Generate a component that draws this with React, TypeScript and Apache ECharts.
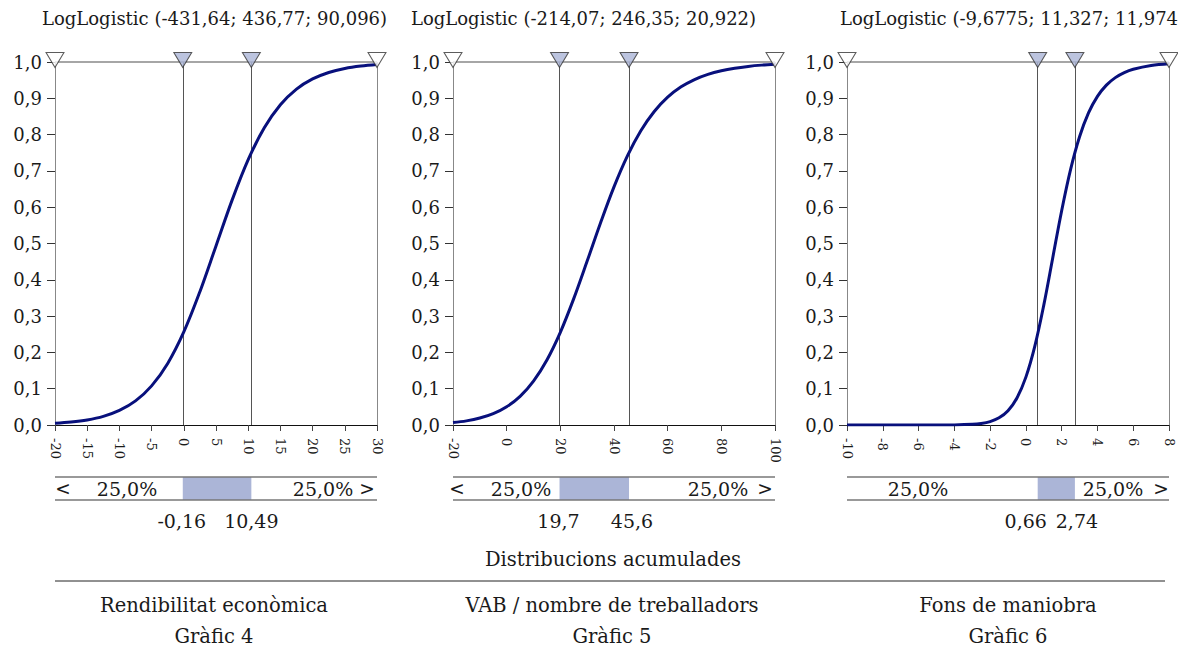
import React, { useEffect, useRef } from "react";
import * as echarts from "echarts";

// ---------- data ----------
const titles = [
  "LogLogistic (-431,64; 436,77; 90,096)",
  "LogLogistic (-214,07; 246,35; 20,922)",
  "LogLogistic (-9,6775; 11,327; 11,974",
];
const captions = ["Rendibilitat econòmica", "VAB / nombre de treballadors", "Fons de maniobra"];
const figureLabels = ["Gràfic 4", "Gràfic 5", "Gràfic 6"];
const footerTitle = "Distribucions acumulades";

const xMin = [-20, -20, -10];
const xMax = [30, 100, 8];
const xStep = [5, 20, 2];

const q25 = [-0.16, 19.7, 0.66];
const q75 = [10.49, 45.6, 2.74];
const q25Text = ["-0,16", "19,7", "0,66"];
const q75Text = ["10,49", "45,6", "2,74"];

const lowShare = ["25,0%", "25,0%", "25,0%"];
const midShare = ["50,0%", "50,0%", ""];
const highShare = ["25,0%", "25,0%", "25,0%"];
const lowArrow = ["<", "<", ""];
const highArrow = [">", ">", ">"];

// Cumulative curves
const x1 = [-20, -17.5, -15, -12.5, -10, -7.5, -5, -2.5, 0, 2.5, 5, 7.5, 10, 12.5, 15, 17.5, 20, 22.5, 25, 27.5, 30];
const f1 = [0.0048, 0.0082, 0.014, 0.0238, 0.0401, 0.0664, 0.1078, 0.1697, 0.2564, 0.3673, 0.4933, 0.6195, 0.7309, 0.8187, 0.8822, 0.9253, 0.9533, 0.9711, 0.9822, 0.989, 0.9932];

const x2 = [-20, -15, -10, -5, 0, 5, 10, 15, 20, 25, 30, 35, 40, 45, 50, 55, 60, 65, 70, 75, 80, 85, 90, 95, 100];
const f2 = [0.0068, 0.0114, 0.0191, 0.0313, 0.0503, 0.079, 0.121, 0.1792, 0.2554, 0.3481, 0.4515, 0.5572, 0.656, 0.7414, 0.8105, 0.8636, 0.903, 0.9315, 0.9517, 0.966, 0.976, 0.983, 0.9879, 0.9914, 0.9938];

const x3 = [-10, -9, -8, -7, -6, -5, -4, -3, -2.5, -2, -1.5, -1, -0.5, 0, 0.5, 1, 1.5, 2, 2.5, 3, 3.5, 4, 4.5, 5, 5.5, 6, 7, 8];
const f3 = [0, 0, 0, 0, 0, 0.00003, 0.0003, 0.0018, 0.0042, 0.0094, 0.0198, 0.0395, 0.0745, 0.1319, 0.2173, 0.3302, 0.4603, 0.5903, 0.7041, 0.7939, 0.8596, 0.9053, 0.9363, 0.957, 0.9708, 0.98, 0.9904, 0.9952];

const curvesX = [x1, x2, x3];
const curvesF = [f1, f2, f3];

// ---------- layout / style ----------
const FONT = "DejaVu Serif";
const TEXT = "#1a1a1a";
const NAVY = "#08107c";
const SHADE = "#abb5d7";
const gridLeft = [55, 453, 847];
const GRID_W = 322;
const GRID_TOP = 62;
const GRID_H = 363;
const STRIP_TOP = 477;
const STRIP_H = 23;
const titleX = [42, 411, 840];
const lowTextDx = [72, 68, 71];
const highTextDx = [-54, -57, -56];
const lowArrowDx = [8, 4, 0];
const highArrowDx = [-10, -10, -8];
const q25Dx = [-1, -1, -12];
const q75Dx = [0, 3, 2];
const captionX = [214, 612, 1008];

export default function App() {
  const ref = useRef<HTMLDivElement>(null);

  useEffect(() => {
    if (!ref.current) return;
    const chart = echarts.init(ref.current, null, { renderer: "svg" });

    const grids: any[] = [];
    const xAxes: any[] = [];
    const yAxes: any[] = [];
    const series: any[] = [];

    for (let i = 0; i < 3; i++) {
      grids.push({ left: gridLeft[i], top: GRID_TOP, width: GRID_W, height: GRID_H });
      xAxes.push({
        type: "value",
        gridIndex: i,
        min: xMin[i],
        max: xMax[i],
        interval: xStep[i],
        axisLine: { show: true, onZero: false, lineStyle: { color: "#111", width: 1 } },
        axisTick: { show: true, length: 6, lineStyle: { color: "#444" } },
        axisLabel: {
          rotate: -90,
          fontFamily: FONT,
          fontSize: 13,
          color: TEXT,
          margin: 13,
          formatter: (v: number) => String(v),
        },
        splitLine: { show: false },
      });
      yAxes.push({
        type: "value",
        gridIndex: i,
        min: 0,
        max: 1,
        interval: 0.1,
        axisLine: { show: true, onZero: false, lineStyle: { color: "#888", width: 1 } },
        axisTick: { show: true, length: 8, lineStyle: { color: "#333" } },
        axisLabel: {
          fontFamily: FONT,
          fontSize: 18,
          color: TEXT,
          margin: 13,
          formatter: (v: number) => v.toFixed(1).replace(".", ","),
        },
        splitLine: { show: false },
      });

      series.push({
        type: "line",
        xAxisIndex: i,
        yAxisIndex: i,
        data: curvesX[i].map((x, k) => [x, curvesF[i][k]]),
        showSymbol: false,
        smooth: 0.35,
        lineStyle: { color: NAVY, width: 3 },
        z: 3,
        markLine: {
          silent: true,
          symbol: ["none", "none"],
          label: { show: false },
          lineStyle: { color: "#555", width: 1, type: "solid" },
          z: 2,
          data: [
            { xAxis: q25[i] },
            { xAxis: q75[i] },
            { xAxis: xMax[i], lineStyle: { color: "#888", width: 1, type: "solid" } },
            { yAxis: 1, lineStyle: { color: "#888", width: 1.5, type: "solid" } },
          ],
        },
      });

      const tri = (x: number, fill: string) => ({
        value: [x, 1],
        itemStyle: { color: fill, borderColor: "#333", borderWidth: 1 },
      });
      series.push({
        type: "scatter",
        xAxisIndex: i,
        yAxisIndex: i,
        symbol: "triangle",
        symbolRotate: 180,
        symbolSize: [18, 15],
        symbolOffset: [0, -2],
        clip: false,
        silent: true,
        z: 5,
        data: [tri(xMin[i], "#fff"), tri(q25[i], SHADE), tri(q75[i], SHADE), tri(xMax[i], "#fff")],
      });
    }

    // percentile strips below each panel
    for (let i = 0; i < 3; i++) {
      const g = 3 + i;
      grids.push({ left: gridLeft[i], top: STRIP_TOP, width: GRID_W, height: STRIP_H });
      xAxes.push({ type: "value", gridIndex: g, min: xMin[i], max: xMax[i], show: false });
      yAxes.push({ type: "value", gridIndex: g, min: 0, max: 1, show: false });
      series.push({
        type: "line",
        xAxisIndex: g,
        yAxisIndex: g,
        data: [[xMin[i], 0.5]],
        showSymbol: false,
        lineStyle: { opacity: 0 },
        silent: true,
        markArea: {
          silent: true,
          itemStyle: { color: SHADE },
          data: [[{ xAxis: q25[i] }, { xAxis: q75[i] }]],
        },
        markLine: {
          silent: true,
          symbol: ["none", "none"],
          label: { show: false },
          lineStyle: { color: "#777", width: 1.5, type: "solid" },
          data: [{ yAxis: 0 }, { yAxis: 1 }],
        },
      });
    }

    chart.setOption({
      animation: false,
      backgroundColor: "#fff",
      grid: grids,
      xAxis: xAxes,
      yAxis: yAxes,
      series,
    });

    // texts placed with the library's own scales
    const txt = (x: number, y: number, s: string, size = 18.5, align = "center") => ({
      type: "text",
      x,
      y,
      silent: true,
      style: {
        text: s,
        fontFamily: FONT,
        fontSize: size,
        fill: TEXT,
        align,
        verticalAlign: "middle",
      },
    });
    const elements: any[] = [];
    const stripMid = STRIP_TOP + STRIP_H / 2;
    for (let i = 0; i < 3; i++) {
      const px = (v: number) => chart.convertToPixel({ xAxisIndex: i }, v) as number;
      const left = px(xMin[i]);
      const right = px(xMax[i]);
      elements.push(txt(titleX[i], 18, titles[i], 18, "left"));
      if (lowArrow[i]) elements.push(txt(left + lowArrowDx[i], stripMid, lowArrow[i]));
      elements.push(txt(left + lowTextDx[i], stripMid, lowShare[i], 19));
      if (midShare[i]) elements.push(txt((px(q25[i]) + px(q75[i])) / 2, stripMid, midShare[i], 19));
      elements.push(txt(right + highTextDx[i], stripMid, highShare[i], 19));
      if (highArrow[i]) elements.push(txt(right + highArrowDx[i], stripMid, highArrow[i]));
      elements.push(txt(px(q25[i]) + q25Dx[i], 521, q25Text[i], 19));
      elements.push(txt(px(q75[i]) + q75Dx[i], 521, q75Text[i], 19));
      elements.push(txt(captionX[i], 605, captions[i], 19.5));
      elements.push(txt(captionX[i], 636, figureLabels[i], 19.5));
    }
    elements.push(txt(613, 559, footerTitle, 19.5));
    elements.push({
      type: "line",
      silent: true,
      shape: { x1: 55, y1: 581, x2: 1165, y2: 581 },
      style: { stroke: "#222", lineWidth: 1 },
    });

    chart.setOption({ graphic: { elements } });

    return () => chart.dispose();
  }, []);

  return (
    <div
      ref={ref}
      style={{ position: "absolute", left: 0, top: 0, width: 1178, height: 647, background: "#fff" }}
    />
  );
}
